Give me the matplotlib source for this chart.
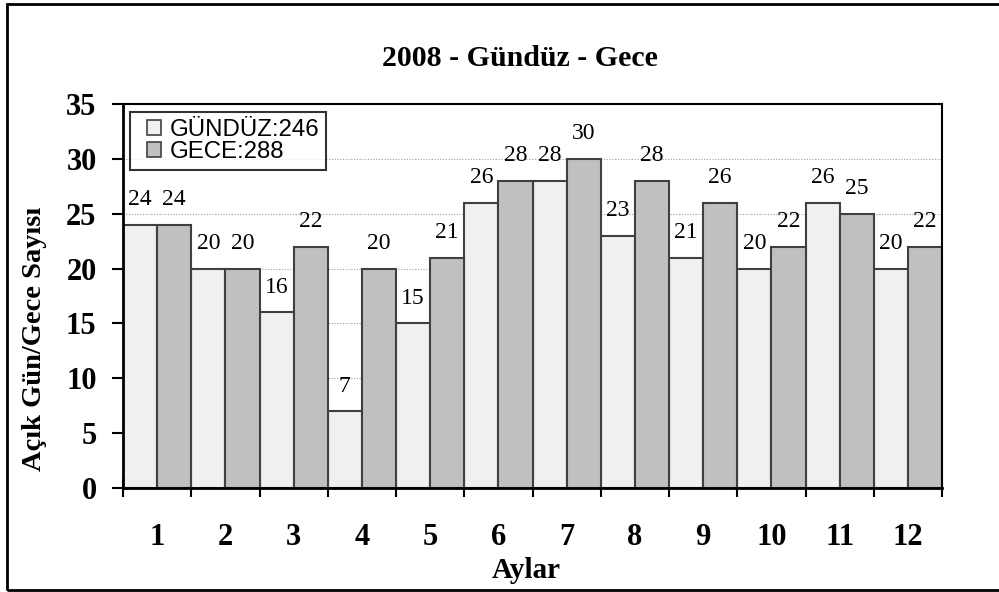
import matplotlib
matplotlib.use("Agg")
import matplotlib.pyplot as plt
import numpy as np
from matplotlib.patches import Rectangle
from matplotlib.legend_handler import HandlerPatch

months = ["1", "2", "3", "4", "5", "6", "7", "8", "9", "10", "11", "12"]
gunduz = [24, 20, 16, 7, 15, 26, 28, 23, 21, 20, 26, 20]
gece = [24, 20, 22, 20, 21, 28, 30, 28, 26, 22, 25, 22]
legend_labels = ["GÜNDÜZ:246", "GECE:288"]
title = "2008 - Gündüz - Gece"
ylabel = "Açık Gün/Gece Sayısı"
xlabel = "Aylar"

W, H = 999, 592
fig = plt.figure(figsize=(W / 100, H / 100), dpi=100)
ax = fig.add_axes([123 / W, 1 - 488 / H, (942 - 123) / W, (488 - 104) / H])

serif = "Liberation Serif"
sans = "Liberation Sans"

x = np.arange(1, len(months) + 1)
bw = 0.5
b1 = ax.bar(x - bw / 2, gunduz, bw, color="#F0F0F0", edgecolor="#404040", linewidth=1.5, zorder=2)
b2 = ax.bar(x + bw / 2, gece, bw, color="#C0C0C0", edgecolor="#404040", linewidth=1.5, zorder=2)

for bars, vals in ((b1, gunduz), (b2, gece)):
    for rect, v in zip(bars, vals):
        ax.annotate(str(v), (rect.get_x() + rect.get_width() / 2, v), xytext=(0, 14),
                    textcoords="offset points", ha="center", va="baseline",
                    fontsize=17, family=serif, zorder=3)

ax.set_xlim(0.5, len(months) + 0.5)
ax.set_ylim(0, 35)
ax.set_yticks(np.arange(0, 36, 5))
ax.set_yticklabels([str(v) for v in range(0, 36, 5)], fontsize=22, fontweight="bold", family=serif)
ax.set_xticks(x, minor=False)
ax.set_xticklabels(months, fontsize=22, fontweight="bold", family=serif)
ax.set_xticks(np.arange(0.5, len(months) + 1, 1), minor=True)
ax.tick_params(axis="x", which="major", length=0, pad=25)
ax.tick_params(axis="x", which="minor", direction="inout", length=13, width=1.5, color="black")
ax.tick_params(axis="y", direction="out", length=8, width=1.5, pad=11)

for yv in range(5, 35, 5):
    ax.axhline(yv, color="#A0A0A0", linestyle=(0, (1, 1.5)), linewidth=0.8, zorder=1)

for s in ax.spines.values():
    s.set_color("black")
    s.set_linewidth(1.5)
ax.spines["left"].set_linewidth(2)
ax.spines["bottom"].set_linewidth(2)


def square_patch(legend, orig_handle, xdescent, ydescent, width, height, fontsize):
    s = height
    return Rectangle((-xdescent + width - s, -ydescent), s, s)


proxies = [Rectangle((0, 0), 1, 1, facecolor="#F0F0F0", edgecolor="#404040", linewidth=1.2),
           Rectangle((0, 0), 1, 1, facecolor="#C0C0C0", edgecolor="#404040", linewidth=1.2)]

leg = ax.legend(proxies, legend_labels, loc="upper left",
                bbox_to_anchor=((130 - 123) / 819, (488 - 112) / 384),
                prop={"family": sans, "size": 17.3},
                frameon=True, fancybox=False, edgecolor="black", handlelength=1.0, handleheight=0.55,
                handletextpad=0.35, borderpad=0.3, labelspacing=0.0, borderaxespad=0.0,
                handler_map={Rectangle: HandlerPatch(patch_func=square_patch)})
leg.get_frame().set_linewidth(1.5)
leg.set_zorder(5)

fig.text(520 / W, 1 - 59 / H, title, ha="center", va="center", fontsize=21.5, fontweight="bold", family=serif)
fig.text(35 / W, 1 - 339 / H, ylabel, ha="center", va="center", rotation=90, fontsize=20.5, fontweight="bold", family=serif)
fig.text(526 / W, 1 - 571 / H, xlabel, ha="center", va="center", fontsize=21, fontweight="bold", family=serif)

fig.patches.append(Rectangle((7 / W, 1 - 590 / H), (1003 - 7) / W, (590 - 4) / H, transform=fig.transFigure,
                             fill=False, edgecolor="black", linewidth=2))

fig.savefig("out.png", dpi=100)
